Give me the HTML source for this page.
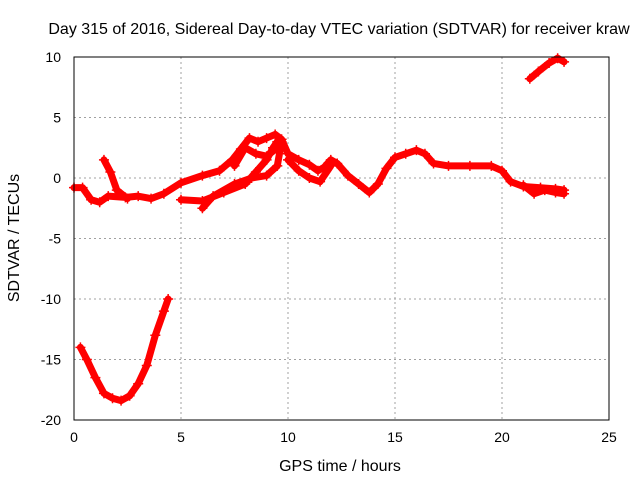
<!DOCTYPE html>
<html><head><meta charset="utf-8"><style>
body{margin:0;background:#fff}
svg text{font-family:"Liberation Sans",sans-serif;font-size:14px;fill:#000}
svg text.big{font-size:16px}
</style></head><body>
<svg id="chart" width="640" height="480" viewBox="0 0 640 480">
<rect width="640" height="480" fill="#fff"/>
<g id="grid"></g>
<g id="series"></g>
<rect x="74" y="57" width="535" height="363" fill="none" stroke="#000" stroke-width="1"/>
<g id="axes"></g>
<text class="big" x="339" y="34" text-anchor="middle">Day 315 of 2016, Sidereal Day-to-day VTEC variation (SDTVAR) for receiver kraw</text>
<text class="big" x="340" y="471" text-anchor="middle">GPS time / hours</text>
<text class="big" transform="translate(19,238) rotate(-90)" text-anchor="middle">SDTVAR / TECUs</text>
</svg>
<script>
const xTicks=[0,5,10,15,20,25];
const yTicks=[10,5,0,-5,-10,-15,-20];
const arcX=[0.3,0.6,1,1.4,1.8,2.2,2.6,3,3.4,3.8,4.2,4.4];
const arcY=[-14,-15,-16.5,-17.8,-18.2,-18.4,-18,-17,-15.5,-13,-11,-10];
const topX=[21.3,21.7,22.2,22.6,22.9];
const topY=[8.2,8.8,9.5,9.9,9.6];
const mainX=[0,0.4,0.8,1.2,1.6,2.4,3,3.6,4.2,5,6,6.8,7.4,7.8,8.2,8.6,9,9.4,9.7,10,10.5,11,11.4,11.7,12,12.3,12.8,13.3,13.8,14.2,14.6,15,15.5,16,16.4,16.8,17.5,18.5,19.5,20,20.4,21,21.8,22.5,22.9];
const mainY=[-0.8,-0.8,-1.8,-2,-1.5,-1.6,-1.5,-1.7,-1.3,-0.4,0.2,0.6,1.5,2.4,3.3,3,3.3,3.6,3.2,2,1.5,1.1,0.6,0.9,1.5,1.2,0.2,-0.5,-1.2,-0.5,0.8,1.7,2,2.3,2,1.2,1,1,1,0.6,-0.3,-0.7,-0.8,-0.9,-1];
const bX=[1.4,1.7,2,2.5];
const bY=[1.5,0.5,-1,-1.7];
const cX=[5,6,7,8,8.5,9,9.3,9.5];
const cY=[-1.8,-1.9,-1.2,-0.5,0.5,1.5,2.5,3];
const dX=[6,6.5,7.5,8.3,9,9.5,9.7];
const dY=[-2.5,-1.5,-0.5,0,0.2,1,3];
const eX=[7.5,8,8.5,9,9.5];
const eY=[1,2.5,2,1.8,2.5];
const fX=[10,10.5,11,11.5,12];
const fY=[1.5,0.6,0,-0.3,1];
const gX=[21,21.5,22,22.5,22.9];
const gY=[-0.6,-1.3,-1,-1.2,-1.3];
const sx=v=>74+v*21.4;
const sy=v=>178-v*12.1;
const NS='http://www.w3.org/2000/svg';
const grid=document.getElementById('grid'),axes=document.getElementById('axes'),ser=document.getElementById('series');
function mk(t,a,p){const e=document.createElementNS(NS,t);for(const k in a)e.setAttribute(k,a[k]);p.appendChild(e);return e;}
xTicks.forEach(v=>{
 if(v>0&&v<25){const l=mk('line',{x1:sx(v),x2:sx(v),y1:57,y2:420,stroke:'#a0a0a0','stroke-dasharray':'2,3'},grid);
 
 }
 const t=mk('text',{x:sx(v),y:442,'text-anchor':'middle'},axes);t.textContent=v;
 
 
});
yTicks.forEach(v=>{
 if(v<10&&v>-20){const l=mk('line',{x1:74,x2:609,y1:sy(v),y2:sy(v),stroke:'#a0a0a0','stroke-dasharray':'2,3'},grid);
 
 }
 const t=mk('text',{x:61,y:sy(v)+5,'text-anchor':'end'},axes);t.textContent=v;
 
 
});
const all=[[arcX,arcY],[topX,topY],[mainX,mainY],[bX,bY],[cX,cY],[dX,dY],[eX,eY],[fX,fY],[gX,gY]];
all.forEach((s,i)=>{
 const pts=s[0].map((x,j)=>sx(x)+','+sy(s[1][j])).join(' ');
 const p=mk('polyline',{points:pts,fill:'none',stroke:'#ff0000','stroke-width':7,'stroke-linejoin':'round','stroke-linecap':'round'},ser);
 
 
 s[0].forEach((x,j)=>{const X=sx(x),Y=sy(s[1][j]);
  const m=mk('path',{d:`M${X-5},${Y}h10M${X},${Y-5}v10`,stroke:'#ff0000','stroke-width':1.5},ser);
  
  });
});
</script>
</body></html>
